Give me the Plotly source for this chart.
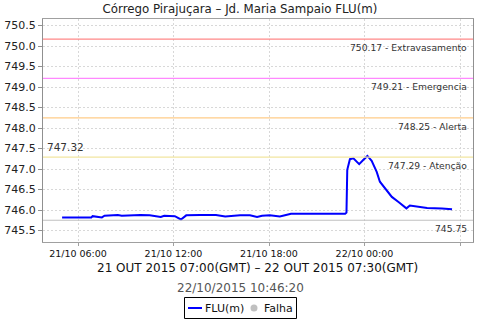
import plotly.graph_objects as go

# ---- data ----
times = [
    "2015-10-21 05:00", "2015-10-21 06:50", "2015-10-21 06:55", "2015-10-21 07:30",
    "2015-10-21 07:40", "2015-10-21 08:30", "2015-10-21 08:45", "2015-10-21 09:10",
    "2015-10-21 09:55", "2015-10-21 10:30", "2015-10-21 11:12", "2015-10-21 11:25",
    "2015-10-21 11:48", "2015-10-21 12:05", "2015-10-21 12:28", "2015-10-21 12:48",
    "2015-10-21 13:40", "2015-10-21 14:40", "2015-10-21 15:15", "2015-10-21 15:33",
    "2015-10-21 16:11", "2015-10-21 16:48", "2015-10-21 17:15", "2015-10-21 17:34",
    "2015-10-21 18:03", "2015-10-21 18:41", "2015-10-21 19:00", "2015-10-21 19:23",
    "2015-10-21 22:47", "2015-10-21 22:52", "2015-10-21 22:55", "2015-10-21 23:05",
    "2015-10-21 23:18", "2015-10-21 23:40", "2015-10-21 23:55", "2015-10-22 00:11",
    "2015-10-22 00:27", "2015-10-22 00:46", "2015-10-22 00:58", "2015-10-22 01:17",
    "2015-10-22 01:43", "2015-10-22 02:07", "2015-10-22 02:38", "2015-10-22 02:51",
    "2015-10-22 03:22", "2015-10-22 03:56", "2015-10-22 04:52", "2015-10-22 05:30",
]
levels = [
    745.82, 745.82, 745.85, 745.82,
    745.86, 745.88, 745.86, 745.87,
    745.88, 745.87, 745.83, 745.86,
    745.86, 745.85, 745.77, 745.87,
    745.88, 745.88, 745.84, 745.85,
    745.87, 745.87, 745.83, 745.86,
    745.87, 745.84, 745.88, 745.91,
    745.91, 745.94, 746.98, 747.24,
    747.26, 747.12, 747.22, 747.32,
    747.20, 746.93, 746.69, 746.53,
    746.32, 746.20, 746.04, 746.11,
    746.09, 746.05, 746.04, 746.02,
]

thresh_values = [750.17, 749.21, 748.25, 747.29, 745.75]
thresh_labels = ["750.17 - Extravasamento", "749.21 - Emergencia", "748.25 - Alerta",
                 "747.29 - Atenção", "745.75"]
thresh_colors = ["#FF8888", "#FF88FF", "#FFCC88", "#F2E6A0", "#C0C0C0"]

max_value = 747.32
title_text = "Córrego Pirajuçara – Jd. Maria Sampaio FLU(m)"
period_text = "21 OUT 2015 07:00(GMT) – 22 OUT 2015 07:30(GMT)"
stamp_text = "22/10/2015 10:46:20"
legend_names = ["FLU(m)", "Falha"]

tick_vals = ["2015-10-21 06:00", "2015-10-21 12:00", "2015-10-21 18:00",
             "2015-10-22 00:00", "2015-10-22 06:00"]
tick_text = ["21/10 06:00", "21/10 12:00", "21/10 18:00", "22/10 00:00", "22/10 06:00"]

FONT = "DejaVu Sans"
W, H = 480, 320
ML, MR, MT, MB = 43, 7, 19, 78
PW, PH = W - ML - MR, H - MT - MB


def px_x(px):
    return (px - ML) / PW


def px_y(py):
    return (H - MB - py) / PH


fig = go.Figure()
fig.add_trace(go.Scatter(x=times, y=levels, mode="lines", name=legend_names[0],
                         line=dict(color="#0000FF", width=2), showlegend=False))

for v, lab, c in zip(thresh_values, thresh_labels, thresh_colors):
    fig.add_shape(type="line", xref="paper", x0=0, x1=1, yref="y", y0=v, y1=v,
                  line=dict(color=c, width=1.2), layer="above")
    fig.add_annotation(x=0.99, xref="paper", xanchor="right", y=v, yref="y",
                       yanchor="top", yshift=-1, text=lab, showarrow=False,
                       font=dict(family=FONT, size=9.2, color="#333333"))

fig.add_annotation(x=0.005, xref="paper", xanchor="left", y=max_value, yref="y",
                   yanchor="bottom", yshift=1, text=f"{max_value:.2f}", showarrow=False,
                   font=dict(family=FONT, size=10.5, color="#333333"))

fig.add_annotation(x=px_x(257), xref="paper", xanchor="center", y=px_y(268), yref="paper",
                   yanchor="middle", text=period_text, showarrow=False,
                   font=dict(family=FONT, size=12, color="#111111"))
fig.add_annotation(x=px_x(240), xref="paper", xanchor="center", y=px_y(288), yref="paper",
                   yanchor="middle", text=stamp_text, showarrow=False,
                   font=dict(family=FONT, size=12, color="#555555"))

# legend box (drawn like the original's boxed legend)
fig.add_shape(type="rect", xref="paper", yref="paper",
              x0=px_x(184.5), x1=px_x(296.5), y0=px_y(318.5), y1=px_y(297.5),
              line=dict(color="#000000", width=1), fillcolor="white")
fig.add_shape(type="line", xref="paper", yref="paper",
              x0=px_x(188), x1=px_x(202), y0=px_y(308), y1=px_y(308),
              line=dict(color="#0000FF", width=2))
fig.add_shape(type="circle", xref="paper", yref="paper",
              xsizemode="pixel", ysizemode="pixel",
              xanchor=px_x(254), yanchor=px_y(308), x0=-3.5, x1=3.5, y0=-3.5, y1=3.5,
              line=dict(width=0), fillcolor="#C0C0C0")
fig.add_annotation(x=px_x(203), xref="paper", xanchor="left", y=px_y(308), yref="paper",
                   yanchor="middle", text=legend_names[0], showarrow=False,
                   font=dict(family=FONT, size=11, color="#111111"))
fig.add_annotation(x=px_x(262), xref="paper", xanchor="left", y=px_y(308), yref="paper",
                   yanchor="middle", text=legend_names[1], showarrow=False,
                   font=dict(family=FONT, size=11, color="#111111"))

fig.update_layout(
    width=W, height=H,
    margin=dict(l=ML, r=MR, t=MT, b=MB, autoexpand=False),
    paper_bgcolor="white", plot_bgcolor="white",
    title=dict(text=title_text, x=0.5, xanchor="center", y=0.972, yanchor="middle",
               font=dict(family=FONT, size=11.8, color="#222222")),
    font=dict(family=FONT, color="#222222"),
    showlegend=False,
)
fig.update_xaxes(
    type="date", range=["2015-10-21 03:48", "2015-10-22 06:49"],
    tickvals=tick_vals, ticktext=tick_text,
    tickfont=dict(family=FONT, size=9.5, color="#111111"),
    showgrid=True, gridcolor="#D8D8D8", griddash="2px,2px", gridwidth=1,
    showline=True, linecolor="#A0A0A0", mirror=True,
    ticks="outside", ticklen=3, tickcolor="#A0A0A0", zeroline=False,
)
fig.update_yaxes(
    range=[745.22, 750.66], dtick=0.5, tick0=745.5, tickformat=".1f",
    tickfont=dict(family=FONT, size=11, color="#222222"),
    showgrid=True, gridcolor="#D8D8D8", griddash="2px,2px", gridwidth=1,
    showline=True, linecolor="#909090", mirror=True,
    ticks="outside", ticklen=4, tickcolor="#909090", zeroline=False,
)

fig.write_html("out.html")
